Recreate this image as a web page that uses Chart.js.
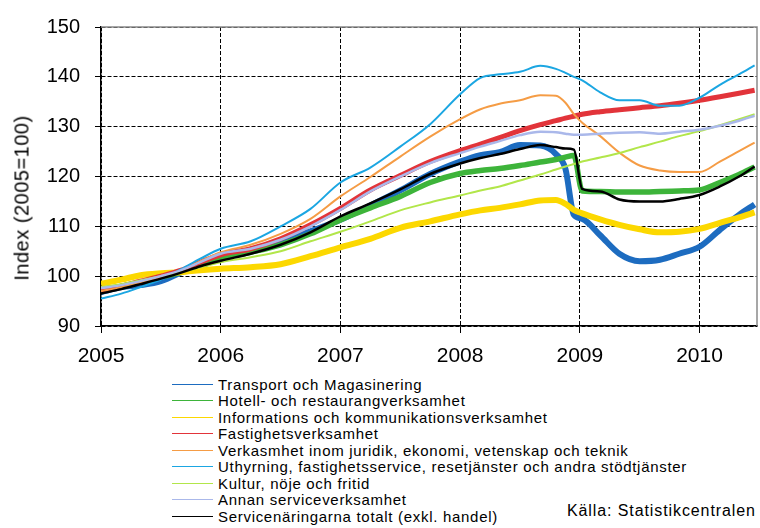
<!DOCTYPE html>
<html>
<head>
<meta charset="utf-8">
<script src="https://cdn.jsdelivr.net/npm/chart.js@4"></script>
<style>
  body { margin: 0; background: #fff; }
  #wrap { position: relative; width: 760px; height: 528px; background: #fff; font-family: 'Liberation Sans', Arial, sans-serif; color: #000; }
  #yTitle { position: absolute; left: 22px; top: 198px; transform: translate(-50%, -50%) rotate(-90deg); white-space: nowrap; font-size: 20px; letter-spacing: 0.5px; }
  #legend { position: absolute; left: 172px; top: 376px; font-size: 15px; letter-spacing: 0.7px; }
  .row { height: 16.5px; display: flex; align-items: center; white-space: nowrap; }
  .swatch { width: 41px; height: 0; border-top: 1.5px solid; margin-right: 5px; }
  #source { position: absolute; left: 567px; top: 502px; font-size: 16px; letter-spacing: 0.9px; }
</style>
</head>
<body>
<div id="wrap">
  <canvas id="myChart" width="760" height="370"></canvas>
  <div id="yTitle">Index (2005=100)</div>
  <div id="legend"></div>
  <div id="source">Källa: Statistikcentralen</div>
</div>
<script>
// time points (decimal years)
const times = [2005.0, 2005.17, 2005.33, 2005.5, 2005.67, 2005.83, 2006.0, 2006.25, 2006.5, 2006.75,
  2007.0, 2007.25, 2007.5, 2007.75, 2008.0, 2008.17, 2008.33, 2008.5, 2008.67, 2008.8, 2008.88, 2008.95,
  2009.02, 2009.17, 2009.33, 2009.5, 2009.67, 2009.83, 2010.0, 2010.17, 2010.33, 2010.46];

const transport = [96.8, 97.8, 98.2, 99.0, 100.8, 102.6, 104.0, 105.0, 106.8, 109.0,
  111.3, 114.2, 117.2, 120.5, 123.0, 124.3, 124.9, 126.3, 126.2, 124.5, 121.5, 112.3,
  111.5, 108.2, 104.5, 103.0, 103.3, 104.5, 105.9, 109.3, 112.3, 114.4];
const hotell = [97.4, 98.0, 98.8, 99.8, 100.8, 102.0, 103.5, 104.8, 106.3, 108.5,
  111.3, 113.7, 116.0, 118.8, 120.6, 121.2, 121.6, 122.2, 122.9, 123.4, 123.9, 124.2,
  117.1, 117.0, 116.9, 116.9, 117.0, 117.1, 117.3, 118.8, 120.4, 121.9];
const information = [98.5, 99.3, 100.2, 100.6, 100.8, 101.2, 101.5, 101.8, 102.4, 104.0,
  105.8, 107.5, 109.7, 111.0, 112.4, 113.2, 113.7, 114.4, 115.2, 115.3, 114.5, 113.3,
  112.6, 111.4, 110.3, 109.4, 108.8, 108.9, 109.5, 110.7, 111.8, 112.8];
const fastighet = [97.2, 98.0, 99.0, 100.0, 101.2, 102.8, 104.3, 105.5, 107.5, 110.3,
  113.6, 117.3, 120.2, 123.0, 125.2, 126.5, 127.8, 129.2, 130.4, 131.2, 131.7, 132.1,
  132.5, 133.0, 133.4, 133.8, 134.2, 134.7, 135.3, 136.0, 136.7, 137.3];
const juridik = [97.0, 97.8, 98.8, 99.8, 101.2, 103.0, 104.8, 106.3, 108.5, 111.5,
  116.0, 119.9, 124.0, 128.0, 131.5, 133.5, 134.6, 135.3, 136.3, 136.2, 134.8, 132.5,
  130.8, 128.1, 124.8, 122.2, 121.2, 120.9, 120.9, 123.0, 125.1, 126.8];
const uthyrning = [95.5, 96.5, 97.8, 99.3, 101.4, 103.5, 105.5, 107.0, 110.0, 113.5,
  118.8, 121.8, 126.0, 130.5, 136.5, 139.8, 140.5, 141.0, 142.2, 141.6, 140.8, 140.0,
  139.3, 136.9, 135.3, 135.3, 134.2, 134.2, 135.8, 138.4, 140.5, 142.3];
const kultur = [97.8, 98.4, 99.2, 100.0, 100.8, 101.8, 102.8, 103.8, 105.0, 107.0,
  108.9, 111.0, 113.2, 114.8, 116.2, 117.2, 118.0, 119.2, 120.4, 121.4, 122.0, 122.5,
  123.0, 123.8, 124.7, 125.9, 127.0, 128.1, 129.1, 130.3, 131.5, 132.5];
const annan = [97.6, 98.2, 99.0, 100.0, 101.2, 102.8, 104.5, 105.5, 107.3, 110.0,
  113.3, 117.0, 120.0, 122.7, 124.7, 126.0, 127.1, 128.3, 129.0, 128.9, 128.6, 128.4,
  128.4, 128.6, 128.8, 128.9, 128.6, 129.0, 129.4, 130.2, 131.2, 132.2];
const totalt = [96.5, 97.4, 98.4, 99.5, 100.7, 102.0, 103.1, 104.5, 106.3, 108.8,
  112.0, 114.6, 117.4, 120.5, 122.6, 123.7, 124.5, 125.5, 126.3, 125.9, 125.6, 125.4,
  117.5, 117.0, 115.4, 115.0, 115.0, 115.5, 116.3, 118.0, 120.0, 122.0];

const labels = [
  'Transport och Magasinering',
  'Hotell- och restaurangverksamhet',
  'Informations och kommunikationsverksamhet',
  'Fastighetsverksamhet',
  'Verkasmhet inom juridik, ekonomi, vetenskap och teknik',
  'Uthyrning, fastighetsservice, resetjänster och andra stödtjänster',
  'Kultur, nöje och fritid',
  'Annan serviceverksamhet',
  'Servicenäringarna totalt (exkl. handel)'
];
const series = [transport, hotell, information, fastighet, juridik, uthyrning, kultur, annan, totalt];
const yTicks = [90, 100, 110, 120, 130, 140, 150];
const xTicks = [2005, 2006, 2007, 2008, 2009, 2010];

const colors = ['#1d6cc0', '#3db43a', '#fcd800', '#e2343a', '#f59c45', '#1ba6e2', '#b2e64a', '#aab8ea', '#000000'];
const widths = [6, 5.5, 6, 5, 2, 2, 2, 2.5, 2.5];

const font = "'Liberation Sans', Arial, sans-serif";

// legend as html
const legend = document.getElementById('legend');
labels.forEach((lab, i) => {
  const row = document.createElement('div');
  row.className = 'row';
  row.innerHTML = '<span class="swatch" style="border-color:' + colors[i] + '"></span>' + lab;
  legend.appendChild(row);
});

const plotBorder = {
  id: 'plotBorder',
  beforeDatasetsDraw(chart) {
    const { ctx, chartArea } = chart;
    ctx.save();
    ctx.strokeStyle = '#8a8a8a';
    ctx.lineWidth = 1.5;
    ctx.beginPath();
    ctx.moveTo(chartArea.left, chartArea.top);
    ctx.lineTo(chartArea.right, chartArea.top);
    ctx.lineTo(chartArea.right, chartArea.bottom);
    ctx.stroke();
    ctx.restore();
  }
};

const ctx = document.getElementById('myChart');

new Chart(ctx, {
  type: 'line',
  data: {
    datasets: series.map((s, i) => ({
      label: labels[i],
      data: s.map((v, k) => ({ x: times[k], y: v })),
      borderColor: colors[i],
      backgroundColor: colors[i],
      borderWidth: widths[i],
      pointRadius: 0,
      cubicInterpolationMode: 'monotone',
      order: series.length - i
    }))
  },
  options: {
    responsive: false,
    animation: false,
    devicePixelRatio: 1,
    layout: { padding: { top: 20, right: 3, left: 0, bottom: 0 } },
    plugins: {
      legend: { display: false },
      tooltip: { enabled: false }
    },
    scales: {
      x: {
        type: 'linear',
        min: 2005,
        max: 2010.48,
        afterBuildTicks: (scale) => { scale.ticks = xTicks.map(v => ({ value: v })); },
        afterFit: (scale) => { scale.height = 44; },
        ticks: {
          callback: (v) => String(v),
          color: '#000',
          font: { family: font, size: 21 },
          padding: 11,
          maxRotation: 0
        },
        grid: { color: '#000', lineWidth: 1, tickLength: 7, tickColor: '#000', tickBorderDash: [] },
        border: { display: true, color: '#000', width: 1.5, dash: [4, 2] }
      },
      y: {
        min: 90,
        max: 150,
        afterBuildTicks: (scale) => { scale.ticks = yTicks.map(v => ({ value: v })); },
        afterFit: (scale) => { scale.width = 101; },
        ticks: {
          color: '#000',
          font: { family: font, size: 20 },
          padding: 15
        },
        grid: { color: '#000', lineWidth: 1, tickLength: 6, tickColor: '#000', tickBorderDash: [] },
        border: { display: true, color: '#000', width: 1.5, dash: [4, 2] }
      }
    }
  },
  plugins: [plotBorder]
});
</script>
</body>
</html>
